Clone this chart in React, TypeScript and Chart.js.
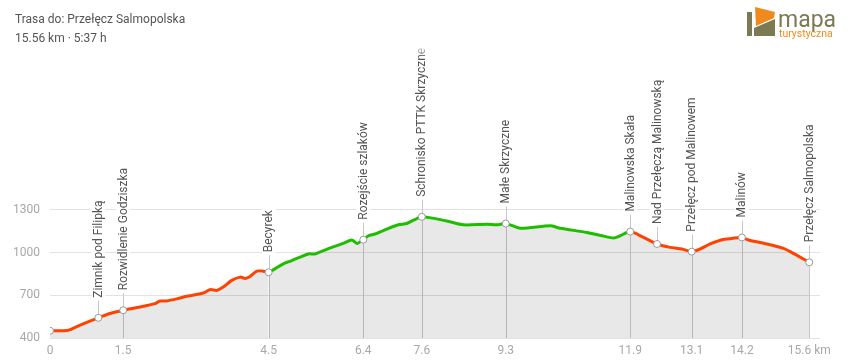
import React, { useEffect, useRef } from "react";
import { Chart, registerables } from "chart.js";

Chart.register(...registerables);

// Elevation profile (distance km, elevation m)
const profileKm = [0, 0.375, 0.615, 0.99, 1.23, 1.5, 1.845, 2.15, 2.255, 2.39, 2.665, 2.8, 3.14, 3.28, 3.42, 3.55, 3.725, 3.895, 4.0, 4.1, 4.24, 4.37, 4.48,
  4.78, 4.955, 5.295, 5.43, 5.775, 6.01, 6.185, 6.29, 6.42, 6.525, 6.66, 6.9, 7.14, 7.31, 7.45, 7.62,
  8.13, 8.47, 8.95, 9.155, 9.34, 9.635, 10.25, 10.455, 11.0, 11.31, 11.55, 11.685, 11.89,
  12.165, 12.44, 12.71, 12.95, 13.15, 13.325, 13.53, 13.77, 13.975, 14.18, 14.315, 14.69, 15.03, 15.17, 15.56];
const profileElev = [451, 455, 491, 542, 572, 595, 618, 642, 660, 660, 681, 693, 716, 740, 735, 758, 805, 828, 819, 833, 870, 870, 862,
  921, 944, 991, 991, 1037, 1065, 1089, 1065, 1091, 1119, 1131, 1165, 1196, 1205, 1228, 1252,
  1223, 1196, 1200, 1196, 1205, 1172, 1189, 1172, 1142, 1119, 1103, 1119, 1148,
  1107, 1061, 1037, 1026, 1007, 1026, 1061, 1091, 1100, 1107, 1089, 1061, 1030, 1007, 932];

// Waypoints
const waypointNames = ["", "Zimnik pod Filipką", "Rozwidlenie Godziszka", "Becyrek", "Rozejście szlaków", "Schronisko PTTK Skrzyczne",
  "Małe Skrzyczne", "Malinowska Skała", "Nad Przełęczą Malinowską", "Przełęcz pod Malinowem", "Malinów", "Przełęcz Salmopolska"];
const waypointKm = [0, 0.99, 1.5, 4.48, 6.42, 7.62, 9.34, 11.89, 12.44, 13.15, 14.18, 15.56];
const waypointElev = [451, 542, 595, 862, 1091, 1252, 1205, 1148, 1061, 1007, 1107, 932];

// X tick labels (at waypoints)
const xTickKm = [0, 1.5, 4.48, 6.42, 7.62, 9.34, 11.89, 13.15, 14.18, 15.56];
const xTickLabels = ["0", "1.5", "4.5", "6.4", "7.6", "9.3", "11.9", "13.1", "14.2", "15.6 km"];
const yTicks = [400, 700, 1000, 1300];

const greenFromKm = 4.48;
const greenToKm = 11.89;

const RED = "#ff4200";
const GREEN = "#1ebd00";
const FONT = "Roboto, 'Noto Sans', sans-serif";

export default function App() {
  const ref = useRef<HTMLCanvasElement>(null);

  useEffect(() => {
    const canvas = ref.current!;
    const waypointPlugin = {
      id: "waypoints",
      beforeDatasetsDraw(chart: any) {
        const { ctx, chartArea, scales } = chart;
        ctx.save();
        ctx.strokeStyle = "#c8c8c8";
        ctx.lineWidth = 1;
        waypointKm.forEach((km, i) => {
          if (!waypointNames[i]) return;
          const x = Math.round(scales.x.getPixelForValue(km)) + 0.5;
          const y = scales.y.getPixelForValue(waypointElev[i]);
          const ticked = xTickKm.includes(km);
          ctx.beginPath();
          ctx.moveTo(x, ticked ? chartArea.bottom : y);
          ctx.lineTo(x, y - 17);
          ctx.stroke();
        });
        ctx.restore();
      },
      afterDatasetsDraw(chart: any) {
        const { ctx, scales } = chart;
        ctx.save();
        ctx.beginPath();
        ctx.rect(0, 44, 850, 362);
        ctx.clip();
        ctx.font = `12px ${FONT}`;
        ctx.textBaseline = "middle";
        ctx.textAlign = "left";
        waypointKm.forEach((km, i) => {
          const name = waypointNames[i];
          if (!name) return;
          const x = scales.x.getPixelForValue(km);
          const y = scales.y.getPixelForValue(waypointElev[i]);
          const w = ctx.measureText(name).width;
          ctx.save();
          ctx.translate(x, y - 20);
          ctx.rotate(-Math.PI / 2);
          ctx.fillStyle = "#ffffff";
          ctx.fillRect(-2, -7, w + 4, 14);
          ctx.fillStyle = "#555555";
          ctx.fillText(name, 0, 0.5);
          ctx.restore();
        });
        ctx.restore();
        // fade at the top
        const g = ctx.createLinearGradient(0, 44, 0, 58);
        g.addColorStop(0, "rgba(255,255,255,1)");
        g.addColorStop(1, "rgba(255,255,255,0)");
        ctx.save();
        ctx.fillStyle = g;
        ctx.fillRect(200, 44, 640, 14);
        ctx.restore();
      },
    };

    const chart = new Chart(canvas, {
      type: "line",
      data: {
        datasets: [
          {
            type: "scatter",
            data: waypointKm.map((x, i) => ({ x, y: waypointElev[i] })),
            pointRadius: 3.5,
            pointBackgroundColor: "#ffffff",
            pointBorderColor: "#9a9a9a",
            pointBorderWidth: 1,
            showLine: false,
          },
          {
            type: "line",
            data: profileKm.map((x, i) => ({ x, y: profileElev[i] })),
            borderColor: RED,
            borderWidth: 3,
            pointRadius: 0,
            tension: 0.25,
            fill: "start",
            backgroundColor: "rgba(0,0,0,0.09)",
            segment: {
              borderColor: (c: any) =>
                c.p0.parsed.x >= greenFromKm - 0.001 && c.p0.parsed.x < greenToKm - 0.001 ? GREEN : RED,
            },
          },
        ],
      },
      options: {
        responsive: false,
        animation: false,
        layout: { padding: { top: 45, right: 30, bottom: 0, left: 0 } },
        plugins: { legend: { display: false }, tooltip: { enabled: false } },
        scales: {
          x: {
            type: "linear",
            min: 0,
            max: 15.78,
            grid: { display: false, drawTicks: false },
            border: { display: false },
            afterBuildTicks: (s: any) => {
              s.ticks = xTickKm.map((v) => ({ value: v }));
            },
            afterFit: (s: any) => {
              s.height = 24;
            },
            ticks: {
              autoSkip: false,
              maxRotation: 0,
              padding: 6,
              color: "#a8a8a8",
              font: { family: FONT, size: 12 },
              callback: (v: any) => {
                const idx = xTickKm.indexOf(Number(v));
                return idx >= 0 ? xTickLabels[idx] : "";
              },
            },
          },
          y: {
            type: "linear",
            min: 400,
            max: 2460,
            grid: { color: "#e2e2e2", drawTicks: false },
            border: { display: false },
            afterBuildTicks: (s: any) => {
              s.ticks = yTicks.map((v) => ({ value: v }));
            },
            afterFit: (s: any) => {
              s.width = 50;
            },
            ticks: {
              padding: 10,
              color: "#a8a8a8",
              font: { family: FONT, size: 12 },
              callback: (v: any) => String(v),
            },
          },
        },
      },
      plugins: [waypointPlugin],
    });
    return () => chart.destroy();
  }, []);

  return (
    <div style={{ position: "absolute", left: 0, top: 0, width: 850, height: 362, background: "#fff", fontFamily: FONT }}>
      <canvas ref={ref} width={850} height={362} style={{ position: "absolute", left: 0, top: 0 }} />
      <div style={{ position: "absolute", left: 15, top: 10, fontSize: 12, lineHeight: "19px", color: "#555" }}>
        <div>Trasa do: Przełęcz Salmopolska</div>
        <div>15.56 km · 5:37 h</div>
      </div>
      <svg width={100} height={45} style={{ position: "absolute", left: 745, top: 0 }}>
        <rect x={2} y={12} width={28} height={24} fill="#7b7a52" />
        <polygon points="8,6 31,11 30,19 9,28" fill="#ffffff" />
        <polygon points="10,7 30,12 29,18 11,26" fill="#f08a1c" />
        <rect x={7} y={12} width={2} height={24} fill="#ffffff" />
        <text x={33} y={27} fontFamily={FONT} fontSize={23} fill="#7b7a52">mapa</text>
        <text x={34} y={37} fontFamily={FONT} fontSize={10.5} fill="#f08a1c">turystyczna</text>
      </svg>
    </div>
  );
}
